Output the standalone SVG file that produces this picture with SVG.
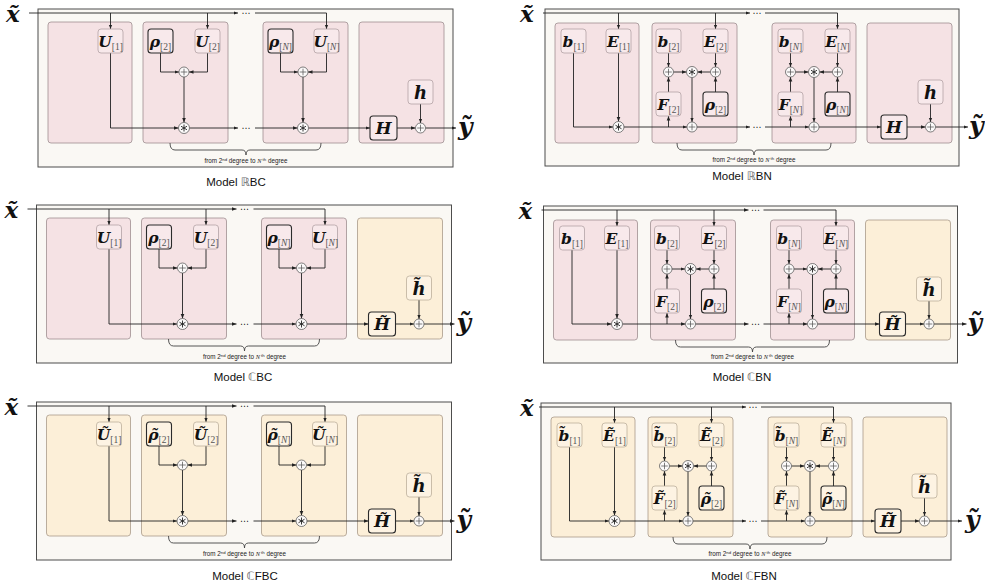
<svg xmlns="http://www.w3.org/2000/svg" width="985" height="586" viewBox="0 0 985 586">
<style>
.frame{fill:#faf8f4;stroke:#4d4d4d;stroke-width:1}
.pk{fill:#f5e2e4;stroke:#9e8e90;stroke-width:0.8}
.bg{fill:#fcefd8;stroke:#aa9b8a;stroke-width:0.8}
.npk{fill:#f8e9eb;stroke:#b2a2a4;stroke-width:0.8}
.nbg{fill:#fdf3e3;stroke:#bdb09c;stroke-width:0.8}
.dk{stroke:#2b2b2b;stroke-width:1.1}
.c{fill:none;stroke:#222;stroke-width:0.9;marker-end:url(#ah)}
.br{fill:none;stroke:#444;stroke-width:0.9}
.v{font-family:"DejaVu Serif","Liberation Serif",serif;font-weight:bold;font-style:italic;fill:#111}
.t{font-size:15.5px;text-anchor:middle}
.s{font-family:"Liberation Serif",serif;font-weight:normal;font-style:normal;fill:#555;font-size:9.5px}
.it{font-style:italic}
.big{font-size:25px}
.bx{font-size:23px}
.dots{font-family:"DejaVu Sans",sans-serif;font-size:9px;fill:#222;text-anchor:middle}
.cap{font-family:"Liberation Sans",sans-serif;font-size:6.3px;fill:#222;text-anchor:middle}
.sup{font-size:4.3px}
.nv{font-family:"Liberation Serif",serif;font-style:italic}
.model{font-family:"Liberation Sans","DejaVu Sans",sans-serif;font-size:11.5px;fill:#111;text-anchor:middle}
.dbl{fill:#666}
</style>
<defs>
<marker id="ah" viewBox="0 0 10 10" refX="10" refY="5" markerWidth="4.5" markerHeight="4.5" markerUnits="userSpaceOnUse" orient="auto"><path d="M0,1L10,5L0,9z" fill="#222"/></marker>
<g id="opl"><circle r="5" fill="#fcfafa" stroke="#555" stroke-width="0.75"/><path d="M-3.3,0H3.3M0,-3.3V3.3" stroke="#555" stroke-width="0.75"/></g>
<g id="oas"><circle r="5.5" fill="#fcfafa" stroke="#555" stroke-width="0.75"/><path d="M0,-3.5V3.5M-3,-1.75L3,1.75M-3,1.75L3,-1.75" stroke="#222" stroke-width="0.9"/></g>
</defs>

<!-- ============ LEFT ROW 1 : RBC ============ -->
<g id="L1" transform="translate(0,0)">
<rect class="frame" x="38" y="9" width="415" height="158"/>
<rect id="L1-blk1" class="pk" x="48" y="22" width="84" height="121" rx="3"/>
<rect id="L1-blk2" class="pk" x="143" y="22" width="85" height="121" rx="3"/>
<rect id="L1-blk3" class="pk" x="263" y="22" width="85" height="121" rx="3"/>
<rect id="L1-blk4" class="pk" x="359" y="22" width="85" height="121" rx="3"/>
<g id="L1-edges">
<path class="c" d="M29,13H238"/><path class="c" d="M255,13H326.5V29"/><path class="c" d="M110.5,13V29"/><path class="c" d="M207.5,13V29"/>
<path class="c" d="M110.5,53V128H178.5"/><path class="c" d="M160.5,53V72H179"/><path class="c" d="M207.5,53V72H189"/><path class="c" d="M184,77V122.5"/>
<path class="c" d="M189.5,128H238"/><path class="c" d="M255,128H297.5"/><path class="c" d="M280.5,53V72H298"/><path class="c" d="M326.5,53V72H308"/><path class="c" d="M303,77V122.5"/>
<path class="c" d="M308.5,128H370"/><path class="c" d="M397,128H415.5"/><path class="c" d="M420.5,104V123"/><path class="c" d="M425.5,128H456"/>
<text class="dots" x="246" y="16">⋯</text><text class="dots" x="246" y="131">⋯</text>
<path class="br" d="M170,143Q170,150 175,150H242Q246,150 246,155Q246,150 250,150H316Q321,150 321,143"/>
<text class="cap" x="246" y="163">from 2<tspan class="sup" dy="-2.3">nd</tspan><tspan dy="2.3"> degree to </tspan><tspan class="nv">N</tspan><tspan class="sup" dy="-2.3"> th</tspan><tspan dy="2.3"> degree</tspan></text>
</g>
<g id="L1-x"><text class="v bx" x="6" y="22">x̃</text></g>
<g id="L1-U1"><rect class="npk" x="98" y="29" width="25" height="24" rx="3"/><text class="v t" x="110.5" y="46.5">U<tspan class="s" dy="3">[1]</tspan></text></g>
<g id="L1-rho2"><rect class="npk dk" x="148" y="29" width="25" height="24" rx="3"/><text class="v t" x="160.5" y="46.5">ρ<tspan class="s" dy="3">[2]</tspan></text></g>
<g id="L1-U2"><rect class="npk" x="195" y="29" width="25" height="24" rx="3"/><text class="v t" x="207.5" y="46.5">U<tspan class="s" dy="3">[2]</tspan></text></g>
<g id="L1-rhoN"><rect class="npk dk" x="268" y="29" width="25" height="24" rx="3"/><text class="v t" x="280.5" y="46.5">ρ<tspan class="s" dy="3">[<tspan class="it">N</tspan>]</tspan></text></g>
<g id="L1-UN"><rect class="npk" x="314" y="29" width="25" height="24" rx="3"/><text class="v t" x="326.5" y="46.5">U<tspan class="s" dy="3">[<tspan class="it">N</tspan>]</tspan></text></g>
<g id="L1-H"><rect class="npk dk" x="370" y="116" width="27" height="24" rx="3"/><text class="v" x="383.5" y="134" font-size="17" text-anchor="middle">H</text></g>
<g id="L1-h"><rect class="npk" x="408" y="80" width="25" height="24" rx="3"/><text class="v" x="420.5" y="98.5" font-size="18" text-anchor="middle">h</text></g>
<g id="L1-p2"><use href="#opl" x="184" y="72"/></g>
<g id="L1-a2"><use href="#oas" x="184" y="128"/></g>
<g id="L1-pN"><use href="#opl" x="303" y="72"/></g>
<g id="L1-aN"><use href="#oas" x="303" y="128"/></g>
<g id="L1-pO"><use href="#opl" x="420.5" y="128"/></g>
<g id="L1-y"><text class="v big" x="458" y="135">ỹ</text></g>
</g>

<!-- ============ LEFT ROW 2 : CBC ============ -->
<g id="L2" transform="translate(-1.5,196)">
<rect class="frame" x="38" y="9" width="415" height="158"/>
<rect id="L2-blk1" class="pk" x="48" y="22" width="84" height="121" rx="3"/>
<rect id="L2-blk2" class="pk" x="143" y="22" width="85" height="121" rx="3"/>
<rect id="L2-blk3" class="pk" x="263" y="22" width="85" height="121" rx="3"/>
<rect id="L2-blk4" class="bg" x="359" y="22" width="85" height="121" rx="3"/>
<g id="L2-edges">
<path class="c" d="M29,13H238"/><path class="c" d="M255,13H326.5V29"/><path class="c" d="M110.5,13V29"/><path class="c" d="M207.5,13V29"/>
<path class="c" d="M110.5,53V128H178.5"/><path class="c" d="M160.5,53V72H179"/><path class="c" d="M207.5,53V72H189"/><path class="c" d="M184,77V122.5"/>
<path class="c" d="M189.5,128H238"/><path class="c" d="M255,128H297.5"/><path class="c" d="M280.5,53V72H298"/><path class="c" d="M326.5,53V72H308"/><path class="c" d="M303,77V122.5"/>
<path class="c" d="M308.5,128H370"/><path class="c" d="M397,128H415.5"/><path class="c" d="M420.5,104V123"/><path class="c" d="M425.5,128H456"/>
<text class="dots" x="246" y="16">⋯</text><text class="dots" x="246" y="131">⋯</text>
<path class="br" d="M170,143Q170,150 175,150H242Q246,150 246,155Q246,150 250,150H316Q321,150 321,143"/>
<text class="cap" x="246" y="163">from 2<tspan class="sup" dy="-2.3">nd</tspan><tspan dy="2.3"> degree to </tspan><tspan class="nv">N</tspan><tspan class="sup" dy="-2.3"> th</tspan><tspan dy="2.3"> degree</tspan></text>
</g>
<g id="L2-x"><text class="v bx" x="6" y="22">x̃</text></g>
<g id="L2-U1"><rect class="npk" x="98" y="29" width="25" height="24" rx="3"/><text class="v t" x="110.5" y="46.5">U<tspan class="s" dy="3">[1]</tspan></text></g>
<g id="L2-rho2"><rect class="npk dk" x="148" y="29" width="25" height="24" rx="3"/><text class="v t" x="160.5" y="46.5">ρ<tspan class="s" dy="3">[2]</tspan></text></g>
<g id="L2-U2"><rect class="npk" x="195" y="29" width="25" height="24" rx="3"/><text class="v t" x="207.5" y="46.5">U<tspan class="s" dy="3">[2]</tspan></text></g>
<g id="L2-rhoN"><rect class="npk dk" x="268" y="29" width="25" height="24" rx="3"/><text class="v t" x="280.5" y="46.5">ρ<tspan class="s" dy="3">[<tspan class="it">N</tspan>]</tspan></text></g>
<g id="L2-UN"><rect class="npk" x="314" y="29" width="25" height="24" rx="3"/><text class="v t" x="326.5" y="46.5">U<tspan class="s" dy="3">[<tspan class="it">N</tspan>]</tspan></text></g>
<g id="L2-H"><rect class="nbg dk" x="370" y="116" width="27" height="24" rx="3"/><text class="v" x="383.5" y="134" font-size="17" text-anchor="middle">H̃</text></g>
<g id="L2-h"><rect class="nbg" x="408" y="80" width="25" height="24" rx="3"/><text class="v" x="420.5" y="98.5" font-size="18" text-anchor="middle">h̃</text></g>
<g id="L2-p2"><use href="#opl" x="184" y="72"/></g>
<g id="L2-a2"><use href="#oas" x="184" y="128"/></g>
<g id="L2-pN"><use href="#opl" x="303" y="72"/></g>
<g id="L2-aN"><use href="#oas" x="303" y="128"/></g>
<g id="L2-pO"><use href="#opl" x="420.5" y="128"/></g>
<g id="L2-y"><text class="v big" x="458" y="135">ỹ</text></g>
</g>

<!-- ============ LEFT ROW 3 : CFBC ============ -->
<g id="L3" transform="translate(-1.5,393)">
<rect class="frame" x="38" y="9" width="415" height="158"/>
<rect id="L3-blk1" class="bg" x="48" y="22" width="84" height="121" rx="3"/>
<rect id="L3-blk2" class="bg" x="143" y="22" width="85" height="121" rx="3"/>
<rect id="L3-blk3" class="bg" x="263" y="22" width="85" height="121" rx="3"/>
<rect id="L3-blk4" class="bg" x="359" y="22" width="85" height="121" rx="3"/>
<g id="L3-edges">
<path class="c" d="M29,13H238"/><path class="c" d="M255,13H326.5V29"/><path class="c" d="M110.5,13V29"/><path class="c" d="M207.5,13V29"/>
<path class="c" d="M110.5,53V128H178.5"/><path class="c" d="M160.5,53V72H179"/><path class="c" d="M207.5,53V72H189"/><path class="c" d="M184,77V122.5"/>
<path class="c" d="M189.5,128H238"/><path class="c" d="M255,128H297.5"/><path class="c" d="M280.5,53V72H298"/><path class="c" d="M326.5,53V72H308"/><path class="c" d="M303,77V122.5"/>
<path class="c" d="M308.5,128H370"/><path class="c" d="M397,128H415.5"/><path class="c" d="M420.5,104V123"/><path class="c" d="M425.5,128H456"/>
<text class="dots" x="246" y="16">⋯</text><text class="dots" x="246" y="131">⋯</text>
<path class="br" d="M170,143Q170,150 175,150H242Q246,150 246,155Q246,150 250,150H316Q321,150 321,143"/>
<text class="cap" x="246" y="163">from 2<tspan class="sup" dy="-2.3">nd</tspan><tspan dy="2.3"> degree to </tspan><tspan class="nv">N</tspan><tspan class="sup" dy="-2.3"> th</tspan><tspan dy="2.3"> degree</tspan></text>
</g>
<g id="L3-x"><text class="v bx" x="6" y="22">x̃</text></g>
<g id="L3-U1"><rect class="nbg" x="98" y="29" width="25" height="24" rx="3"/><text class="v t" x="110.5" y="46.5">Ũ<tspan class="s" dy="3">[1]</tspan></text></g>
<g id="L3-rho2"><rect class="nbg dk" x="148" y="29" width="25" height="24" rx="3"/><text class="v t" x="160.5" y="46.5">ρ̃<tspan class="s" dy="3">[2]</tspan></text></g>
<g id="L3-U2"><rect class="nbg" x="195" y="29" width="25" height="24" rx="3"/><text class="v t" x="207.5" y="46.5">Ũ<tspan class="s" dy="3">[2]</tspan></text></g>
<g id="L3-rhoN"><rect class="nbg dk" x="268" y="29" width="25" height="24" rx="3"/><text class="v t" x="280.5" y="46.5">ρ̃<tspan class="s" dy="3">[<tspan class="it">N</tspan>]</tspan></text></g>
<g id="L3-UN"><rect class="nbg" x="314" y="29" width="25" height="24" rx="3"/><text class="v t" x="326.5" y="46.5">Ũ<tspan class="s" dy="3">[<tspan class="it">N</tspan>]</tspan></text></g>
<g id="L3-H"><rect class="nbg dk" x="370" y="116" width="27" height="24" rx="3"/><text class="v" x="383.5" y="134" font-size="17" text-anchor="middle">H̃</text></g>
<g id="L3-h"><rect class="nbg" x="408" y="80" width="25" height="24" rx="3"/><text class="v" x="420.5" y="98.5" font-size="18" text-anchor="middle">h̃</text></g>
<g id="L3-p2"><use href="#opl" x="184" y="72"/></g>
<g id="L3-a2"><use href="#oas" x="184" y="128"/></g>
<g id="L3-pN"><use href="#opl" x="303" y="72"/></g>
<g id="L3-aN"><use href="#oas" x="303" y="128"/></g>
<g id="L3-pO"><use href="#opl" x="420.5" y="128"/></g>
<g id="L3-y"><text class="v big" x="458" y="135">ỹ</text></g>
</g>

<!-- ============ RIGHT ROW 1 : RBN ============ -->
<g id="R1" transform="translate(0,0)">
<rect class="frame" x="545" y="9" width="414" height="157"/>
<rect id="R1-blk1" class="pk" x="555" y="23" width="84" height="120" rx="3"/>
<rect id="R1-blk2" class="pk" x="652" y="23" width="85" height="120" rx="3"/>
<rect id="R1-blk3" class="pk" x="772" y="23" width="84" height="120" rx="3"/>
<rect id="R1-blk4" class="pk" x="867" y="23" width="85" height="120" rx="3"/>
<g id="R1-edges">
<path class="c" d="M543,13H750"/><path class="c" d="M765,13H837.5V29"/><path class="c" d="M618.5,13V29"/><path class="c" d="M715.5,13V29"/>
<path class="c" d="M573.5,53V127H613"/><path class="c" d="M618.5,53V121.5"/><path class="c" d="M624,127H687"/><path class="c" d="M668.5,127V116"/>
<path class="c" d="M668.5,53V67"/><path class="c" d="M668.5,92V77"/><path class="c" d="M673.5,72H686.5"/><path class="c" d="M715.5,53V67"/><path class="c" d="M715.5,92V77"/><path class="c" d="M710.5,72H697.5"/><path class="c" d="M692,77.5V122"/>
<path class="c" d="M697,127H750"/><path class="c" d="M765,127H809"/><path class="c" d="M790.5,127V116"/>
<path class="c" d="M790.5,53V67"/><path class="c" d="M790.5,92V77"/><path class="c" d="M795.5,72H808.5"/><path class="c" d="M837.5,53V67"/><path class="c" d="M837.5,92V77"/><path class="c" d="M832.5,72H819.5"/><path class="c" d="M814,77.5V122"/>
<path class="c" d="M819,127H881"/><path class="c" d="M907,127H925.5"/><path class="c" d="M930.5,104V122"/><path class="c" d="M935.5,127H968"/>
<text class="dots" x="757" y="16">⋯</text><text class="dots" x="757" y="130">⋯</text>
<path class="br" d="M677,143Q677,150 682,150H750Q754,150 754,155Q754,150 758,150H826Q831,150 831,143"/>
<text class="cap" x="754" y="162">from 2<tspan class="sup" dy="-2.3">nd</tspan><tspan dy="2.3"> degree to </tspan><tspan class="nv">N</tspan><tspan class="sup" dy="-2.3"> th</tspan><tspan dy="2.3"> degree</tspan></text>
</g>
<g id="R1-x"><text class="v bx" x="520" y="22">x̃</text></g>
<g id="R1-b1"><rect class="npk" x="561" y="29" width="25" height="24" rx="3"/><text class="v t" x="573.5" y="46.5">b<tspan class="s" dy="3">[1]</tspan></text></g>
<g id="R1-E1"><rect class="npk" x="606" y="29" width="25" height="24" rx="3"/><text class="v t" x="618.5" y="46.5">E<tspan class="s" dy="3">[1]</tspan></text></g>
<g id="R1-b2"><rect class="npk" x="656" y="29" width="25" height="24" rx="3"/><text class="v t" x="668.5" y="46.5">b<tspan class="s" dy="3">[2]</tspan></text></g>
<g id="R1-E2"><rect class="npk" x="703" y="29" width="25" height="24" rx="3"/><text class="v t" x="715.5" y="46.5">E<tspan class="s" dy="3">[2]</tspan></text></g>
<g id="R1-F2"><rect class="npk" x="656" y="92" width="25" height="24" rx="3"/><text class="v t" x="668.5" y="109.5">F<tspan class="s" dy="3">[2]</tspan></text></g>
<g id="R1-rho2"><rect class="npk dk" x="703" y="92" width="25" height="24" rx="3"/><text class="v t" x="715.5" y="109.5">ρ<tspan class="s" dy="3">[2]</tspan></text></g>
<g id="R1-bN"><rect class="npk" x="778" y="29" width="25" height="24" rx="3"/><text class="v t" x="790.5" y="46.5">b<tspan class="s" dy="3">[<tspan class="it">N</tspan>]</tspan></text></g>
<g id="R1-EN"><rect class="npk" x="825" y="29" width="25" height="24" rx="3"/><text class="v t" x="837.5" y="46.5">E<tspan class="s" dy="3">[<tspan class="it">N</tspan>]</tspan></text></g>
<g id="R1-FN"><rect class="npk" x="778" y="92" width="25" height="24" rx="3"/><text class="v t" x="790.5" y="109.5">F<tspan class="s" dy="3">[<tspan class="it">N</tspan>]</tspan></text></g>
<g id="R1-rhoN"><rect class="npk dk" x="825" y="92" width="25" height="24" rx="3"/><text class="v t" x="837.5" y="109.5">ρ<tspan class="s" dy="3">[<tspan class="it">N</tspan>]</tspan></text></g>
<g id="R1-H"><rect class="npk dk" x="881" y="115" width="26" height="24" rx="3"/><text class="v" x="894" y="133" font-size="17" text-anchor="middle">H</text></g>
<g id="R1-h"><rect class="npk" x="918" y="80" width="25" height="24" rx="3"/><text class="v" x="930.5" y="98.5" font-size="18" text-anchor="middle">h</text></g>
<g id="R1-a1"><use href="#oas" x="618.5" y="127"/></g>
<g id="R1-pL2"><use href="#opl" x="668.5" y="72"/></g>
<g id="R1-a2"><use href="#oas" x="692" y="72"/></g>
<g id="R1-pR2"><use href="#opl" x="715.5" y="72"/></g>
<g id="R1-pB2"><use href="#opl" x="692" y="127"/></g>
<g id="R1-pLN"><use href="#opl" x="790.5" y="72"/></g>
<g id="R1-aN"><use href="#oas" x="814" y="72"/></g>
<g id="R1-pRN"><use href="#opl" x="837.5" y="72"/></g>
<g id="R1-pBN"><use href="#opl" x="814" y="127"/></g>
<g id="R1-pO"><use href="#opl" x="930.5" y="127"/></g>
<g id="R1-y"><text class="v big" x="969" y="134">ỹ</text></g>
</g>

<!-- ============ RIGHT ROW 2 : CBN ============ -->
<g id="R2" transform="translate(-1.5,197)">
<rect class="frame" x="545" y="9" width="414" height="157"/>
<rect id="R2-blk1" class="pk" x="555" y="23" width="84" height="120" rx="3"/>
<rect id="R2-blk2" class="pk" x="652" y="23" width="85" height="120" rx="3"/>
<rect id="R2-blk3" class="pk" x="772" y="23" width="84" height="120" rx="3"/>
<rect id="R2-blk4" class="bg" x="867" y="23" width="85" height="120" rx="3"/>
<g id="R2-edges">
<path class="c" d="M543,13H750"/><path class="c" d="M765,13H837.5V29"/><path class="c" d="M618.5,13V29"/><path class="c" d="M715.5,13V29"/>
<path class="c" d="M573.5,53V127H613"/><path class="c" d="M618.5,53V121.5"/><path class="c" d="M624,127H687"/><path class="c" d="M668.5,127V116"/>
<path class="c" d="M668.5,53V67"/><path class="c" d="M668.5,92V77"/><path class="c" d="M673.5,72H686.5"/><path class="c" d="M715.5,53V67"/><path class="c" d="M715.5,92V77"/><path class="c" d="M710.5,72H697.5"/><path class="c" d="M692,77.5V122"/>
<path class="c" d="M697,127H750"/><path class="c" d="M765,127H809"/><path class="c" d="M790.5,127V116"/>
<path class="c" d="M790.5,53V67"/><path class="c" d="M790.5,92V77"/><path class="c" d="M795.5,72H808.5"/><path class="c" d="M837.5,53V67"/><path class="c" d="M837.5,92V77"/><path class="c" d="M832.5,72H819.5"/><path class="c" d="M814,77.5V122"/>
<path class="c" d="M819,127H881"/><path class="c" d="M907,127H925.5"/><path class="c" d="M930.5,104V122"/><path class="c" d="M935.5,127H968"/>
<text class="dots" x="757" y="16">⋯</text><text class="dots" x="757" y="130">⋯</text>
<path class="br" d="M677,143Q677,150 682,150H750Q754,150 754,155Q754,150 758,150H826Q831,150 831,143"/>
<text class="cap" x="754" y="162">from 2<tspan class="sup" dy="-2.3">nd</tspan><tspan dy="2.3"> degree to </tspan><tspan class="nv">N</tspan><tspan class="sup" dy="-2.3"> th</tspan><tspan dy="2.3"> degree</tspan></text>
</g>
<g id="R2-x"><text class="v bx" x="520" y="22">x̃</text></g>
<g id="R2-b1"><rect class="npk" x="561" y="29" width="25" height="24" rx="3"/><text class="v t" x="573.5" y="46.5">b<tspan class="s" dy="3">[1]</tspan></text></g>
<g id="R2-E1"><rect class="npk" x="606" y="29" width="25" height="24" rx="3"/><text class="v t" x="618.5" y="46.5">E<tspan class="s" dy="3">[1]</tspan></text></g>
<g id="R2-b2"><rect class="npk" x="656" y="29" width="25" height="24" rx="3"/><text class="v t" x="668.5" y="46.5">b<tspan class="s" dy="3">[2]</tspan></text></g>
<g id="R2-E2"><rect class="npk" x="703" y="29" width="25" height="24" rx="3"/><text class="v t" x="715.5" y="46.5">E<tspan class="s" dy="3">[2]</tspan></text></g>
<g id="R2-F2"><rect class="npk" x="656" y="92" width="25" height="24" rx="3"/><text class="v t" x="668.5" y="109.5">F<tspan class="s" dy="3">[2]</tspan></text></g>
<g id="R2-rho2"><rect class="npk dk" x="703" y="92" width="25" height="24" rx="3"/><text class="v t" x="715.5" y="109.5">ρ<tspan class="s" dy="3">[2]</tspan></text></g>
<g id="R2-bN"><rect class="npk" x="778" y="29" width="25" height="24" rx="3"/><text class="v t" x="790.5" y="46.5">b<tspan class="s" dy="3">[<tspan class="it">N</tspan>]</tspan></text></g>
<g id="R2-EN"><rect class="npk" x="825" y="29" width="25" height="24" rx="3"/><text class="v t" x="837.5" y="46.5">E<tspan class="s" dy="3">[<tspan class="it">N</tspan>]</tspan></text></g>
<g id="R2-FN"><rect class="npk" x="778" y="92" width="25" height="24" rx="3"/><text class="v t" x="790.5" y="109.5">F<tspan class="s" dy="3">[<tspan class="it">N</tspan>]</tspan></text></g>
<g id="R2-rhoN"><rect class="npk dk" x="825" y="92" width="25" height="24" rx="3"/><text class="v t" x="837.5" y="109.5">ρ<tspan class="s" dy="3">[<tspan class="it">N</tspan>]</tspan></text></g>
<g id="R2-H"><rect class="nbg dk" x="881" y="115" width="26" height="24" rx="3"/><text class="v" x="894" y="133" font-size="17" text-anchor="middle">H̃</text></g>
<g id="R2-h"><rect class="nbg" x="918" y="80" width="25" height="24" rx="3"/><text class="v" x="930.5" y="98.5" font-size="18" text-anchor="middle">h̃</text></g>
<g id="R2-a1"><use href="#oas" x="618.5" y="127"/></g>
<g id="R2-pL2"><use href="#opl" x="668.5" y="72"/></g>
<g id="R2-a2"><use href="#oas" x="692" y="72"/></g>
<g id="R2-pR2"><use href="#opl" x="715.5" y="72"/></g>
<g id="R2-pB2"><use href="#opl" x="692" y="127"/></g>
<g id="R2-pLN"><use href="#opl" x="790.5" y="72"/></g>
<g id="R2-aN"><use href="#oas" x="814" y="72"/></g>
<g id="R2-pRN"><use href="#opl" x="837.5" y="72"/></g>
<g id="R2-pBN"><use href="#opl" x="814" y="127"/></g>
<g id="R2-pO"><use href="#opl" x="930.5" y="127"/></g>
<g id="R2-y"><text class="v big" x="969" y="134">ỹ</text></g>
</g>

<!-- ============ RIGHT ROW 3 : CFBN ============ -->
<g id="R3" transform="translate(-4,394)">
<rect class="frame" x="545" y="9" width="410" height="157"/>
<rect id="R3-blk1" class="bg" x="555" y="23" width="84" height="120" rx="3"/>
<rect id="R3-blk2" class="bg" x="652" y="23" width="85" height="120" rx="3"/>
<rect id="R3-blk3" class="bg" x="772" y="23" width="84" height="120" rx="3"/>
<rect id="R3-blk4" class="bg" x="867" y="23" width="84" height="120" rx="3"/>
<g id="R3-edges">
<path class="c" d="M543,13H750"/><path class="c" d="M765,13H837.5V29"/><path class="c" d="M618.5,13V29"/><path class="c" d="M715.5,13V29"/>
<path class="c" d="M573.5,53V127H613"/><path class="c" d="M618.5,53V121.5"/><path class="c" d="M624,127H687"/><path class="c" d="M668.5,127V116"/>
<path class="c" d="M668.5,53V67"/><path class="c" d="M668.5,92V77"/><path class="c" d="M673.5,72H686.5"/><path class="c" d="M715.5,53V67"/><path class="c" d="M715.5,92V77"/><path class="c" d="M710.5,72H697.5"/><path class="c" d="M692,77.5V122"/>
<path class="c" d="M697,127H750"/><path class="c" d="M765,127H809"/><path class="c" d="M790.5,127V116"/>
<path class="c" d="M790.5,53V67"/><path class="c" d="M790.5,92V77"/><path class="c" d="M795.5,72H808.5"/><path class="c" d="M837.5,53V67"/><path class="c" d="M837.5,92V77"/><path class="c" d="M832.5,72H819.5"/><path class="c" d="M814,77.5V122"/>
<path class="c" d="M819,127H879"/><path class="c" d="M905,127H923.5"/><path class="c" d="M928.5,104V122"/><path class="c" d="M933.5,127H966"/>
<text class="dots" x="757" y="16">⋯</text><text class="dots" x="757" y="130">⋯</text>
<path class="br" d="M677,143Q677,150 682,150H750Q754,150 754,155Q754,150 758,150H826Q831,150 831,143"/>
<text class="cap" x="754" y="162">from 2<tspan class="sup" dy="-2.3">nd</tspan><tspan dy="2.3"> degree to </tspan><tspan class="nv">N</tspan><tspan class="sup" dy="-2.3"> th</tspan><tspan dy="2.3"> degree</tspan></text>
</g>
<g id="R3-x"><text class="v bx" x="524" y="22">x̃</text></g>
<g id="R3-b1"><rect class="nbg" x="561" y="29" width="25" height="24" rx="3"/><text class="v t" x="573.5" y="46.5">b̃<tspan class="s" dy="3">[1]</tspan></text></g>
<g id="R3-E1"><rect class="nbg" x="606" y="29" width="25" height="24" rx="3"/><text class="v t" x="618.5" y="46.5">Ẽ<tspan class="s" dy="3">[1]</tspan></text></g>
<g id="R3-b2"><rect class="nbg" x="656" y="29" width="25" height="24" rx="3"/><text class="v t" x="668.5" y="46.5">b̃<tspan class="s" dy="3">[2]</tspan></text></g>
<g id="R3-E2"><rect class="nbg" x="703" y="29" width="25" height="24" rx="3"/><text class="v t" x="715.5" y="46.5">Ẽ<tspan class="s" dy="3">[2]</tspan></text></g>
<g id="R3-F2"><rect class="nbg" x="656" y="92" width="25" height="24" rx="3"/><text class="v t" x="668.5" y="109.5">F̃<tspan class="s" dy="3">[2]</tspan></text></g>
<g id="R3-rho2"><rect class="nbg dk" x="703" y="92" width="25" height="24" rx="3"/><text class="v t" x="715.5" y="109.5">ρ̃<tspan class="s" dy="3">[2]</tspan></text></g>
<g id="R3-bN"><rect class="nbg" x="778" y="29" width="25" height="24" rx="3"/><text class="v t" x="790.5" y="46.5">b̃<tspan class="s" dy="3">[<tspan class="it">N</tspan>]</tspan></text></g>
<g id="R3-EN"><rect class="nbg" x="825" y="29" width="25" height="24" rx="3"/><text class="v t" x="837.5" y="46.5">Ẽ<tspan class="s" dy="3">[<tspan class="it">N</tspan>]</tspan></text></g>
<g id="R3-FN"><rect class="nbg" x="778" y="92" width="25" height="24" rx="3"/><text class="v t" x="790.5" y="109.5">F̃<tspan class="s" dy="3">[<tspan class="it">N</tspan>]</tspan></text></g>
<g id="R3-rhoN"><rect class="nbg dk" x="825" y="92" width="25" height="24" rx="3"/><text class="v t" x="837.5" y="109.5">ρ̃<tspan class="s" dy="3">[<tspan class="it">N</tspan>]</tspan></text></g>
<g id="R3-H"><rect class="nbg dk" x="879" y="115" width="26" height="24" rx="3"/><text class="v" x="892" y="133" font-size="17" text-anchor="middle">H̃</text></g>
<g id="R3-h"><rect class="nbg" x="916" y="80" width="25" height="24" rx="3"/><text class="v" x="928.5" y="98.5" font-size="18" text-anchor="middle">h̃</text></g>
<g id="R3-a1"><use href="#oas" x="618.5" y="127"/></g>
<g id="R3-pL2"><use href="#opl" x="668.5" y="72"/></g>
<g id="R3-a2"><use href="#oas" x="692" y="72"/></g>
<g id="R3-pR2"><use href="#opl" x="715.5" y="72"/></g>
<g id="R3-pB2"><use href="#opl" x="692" y="127"/></g>
<g id="R3-pLN"><use href="#opl" x="790.5" y="72"/></g>
<g id="R3-aN"><use href="#oas" x="814" y="72"/></g>
<g id="R3-pRN"><use href="#opl" x="837.5" y="72"/></g>
<g id="R3-pBN"><use href="#opl" x="814" y="127"/></g>
<g id="R3-pO"><use href="#opl" x="928.5" y="127"/></g>
<g id="R3-y"><text class="v big" x="969" y="134">ỹ</text></g>
</g>

<!-- captions -->
<g id="captions">
<text class="model" x="236" y="186">Model <tspan class="dbl">ℝ</tspan>BC</text>
<text class="model" x="742" y="180">Model <tspan class="dbl">ℝ</tspan>BN</text>
<text class="model" x="243" y="381">Model <tspan class="dbl">ℂ</tspan>BC</text>
<text class="model" x="742" y="381">Model <tspan class="dbl">ℂ</tspan>BN</text>
<text class="model" x="245" y="580">Model <tspan class="dbl">ℂ</tspan>FBC</text>
<text class="model" x="744" y="580">Model <tspan class="dbl">ℂ</tspan>FBN</text>
</g>
</svg>
